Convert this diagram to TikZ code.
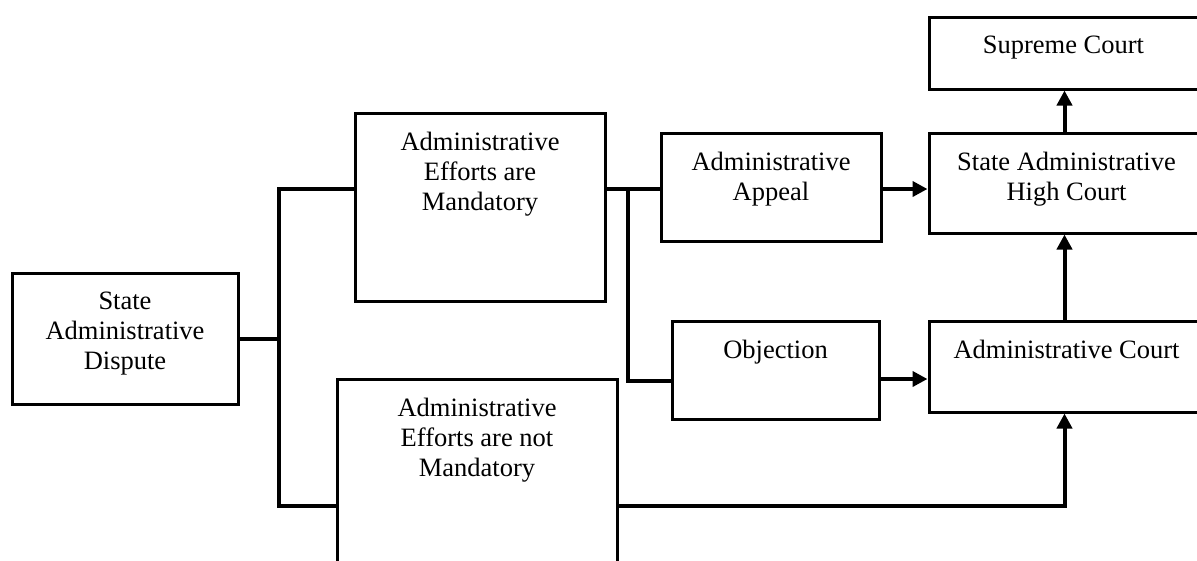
\documentclass[tikz,border=0pt]{standalone}
\usepackage{fontspec}
\setmainfont{Liberation Serif}
\usetikzlibrary{arrows.meta}
\begin{document}
\begin{tikzpicture}[x=1pt,y=-1pt,
  box/.style={draw, line width=3pt, rectangle, inner sep=0pt, anchor=center},
  txt/.style={anchor=north, inner sep=0pt, align=center,
    font=\fontsize{26.5}{30}\selectfont},
  conn/.style={line width=4pt},
  arr/.style={line width=4pt, -{Triangle[length=15pt,width=15pt]}}]
\useasboundingbox (0,0) rectangle (1197,560);

% boxes (given by centre and size)
\node[box, minimum width=226pt, minimum height=131pt] (disp) at (125,338.5) {};
\node[box, minimum width=250pt, minimum height=188pt] (mand) at (480,207) {};
\node[box, minimum width=280pt, minimum height=191pt] (notm) at (477,474.5) {};
\node[box, minimum width=220pt, minimum height=108pt] (appeal) at (771,187) {};
\node[box, minimum width=207pt, minimum height=98pt] (obj) at (775.5,370) {};
\node[box, minimum width=271pt, minimum height=72pt] (supreme) at (1064.5,53) {};
\node[box, minimum width=271pt, minimum height=100pt] (high) at (1064.5,183) {};
\node[box, minimum width=271pt, minimum height=91pt] (court) at (1064.5,366.5) {};

% box texts, set from the top edge
\node[txt] (disp-t) at ([yshift=-20pt]disp.north) {State\\Administrative\\Dispute};
\node[txt] (mand-t) at ([yshift=-20pt]mand.north) {Administrative\\Efforts are\\Mandatory};
\node[txt] (notm-t) at ([yshift=-20pt]notm.north) {Administrative\\Efforts are not\\Mandatory};
\node[txt] (appeal-t) at ([yshift=-20pt]appeal.north) {Administrative\\Appeal};
\node[txt] (obj-t) at ([yshift=-20pt]obj.north) {Objection};
\node[txt] (supreme-t) at ([xshift=-1pt,yshift=-20pt]supreme.north) {Supreme Court};
\node[txt] (high-t) at ([xshift=2pt,yshift=-20pt]high.north) {State Administrative\\High Court};
\node[txt] (court-t) at ([xshift=2pt,yshift=-20pt]court.north) {Administrative Court};

% bus lines
\coordinate (b1) at (279,189);
\coordinate (b2) at (279,506);
\coordinate (b3) at (628,189);
\coordinate (b4) at (628,381);

\draw[conn] (disp.east) -- (disp.east -| b1);
\draw[conn] (mand.west |- b1) -- (b1) -- (b2) -- (notm.west |- b2);
\draw[conn] (mand.east |- b3) -- (appeal.west |- b3);
\draw[conn] (b3) -- (b4) -- (obj.west |- b4);

% arrows
\draw[arr] (appeal.east |- b3) -- (high.west |- b3);
\draw[arr] (obj.east |- 0,379) -- (court.west |- 0,379);
\draw[arr] (high.north) -- (supreme.south);
\draw[arr] (court.north) -- (high.south);
\draw[arr] (notm.east |- b2) -| (court.south);
\end{tikzpicture}
\end{document}
